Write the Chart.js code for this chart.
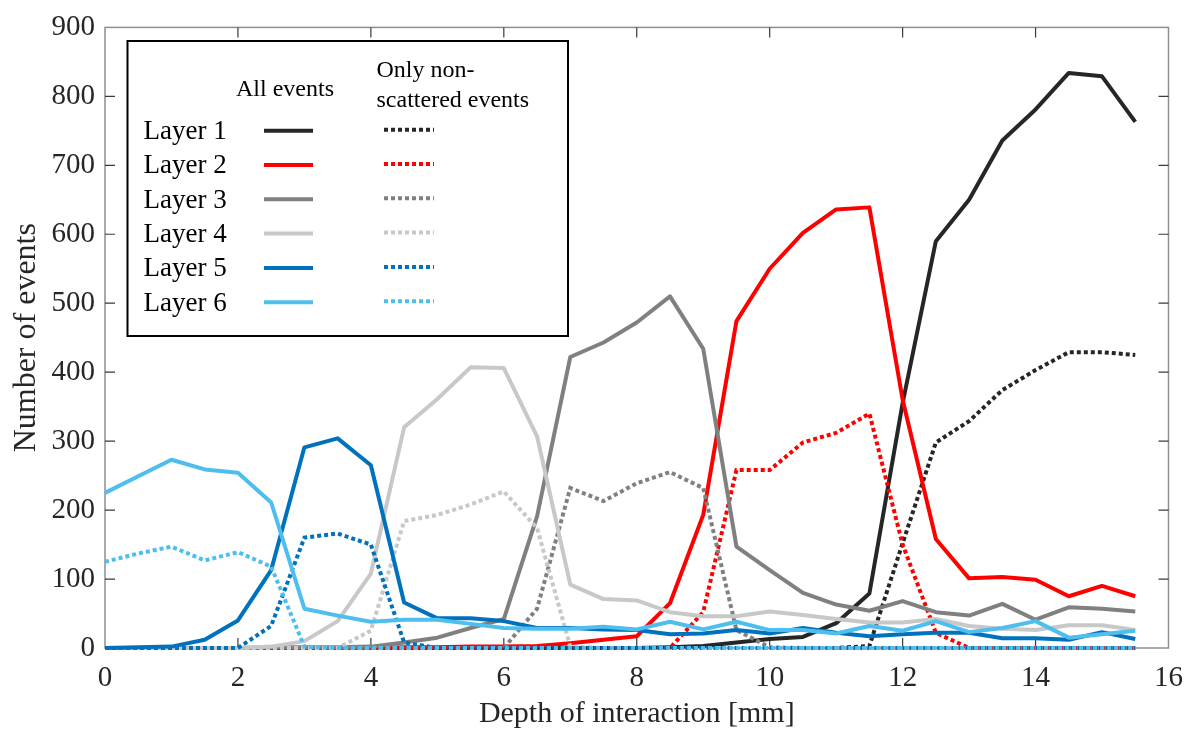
<!DOCTYPE html>
<html>
<head>
<meta charset="utf-8">
<script src="https://cdn.jsdelivr.net/npm/chart.js@4.4.1/dist/chart.umd.min.js"></script>
<style>
  html, body { margin: 0; padding: 0; background: #ffffff; }
  #c { display: block; }
</style>
</head>
<body>
<canvas id="c" width="1196" height="738"></canvas>
<script>
// ---------- DATA ----------
const depth = [0, 0.5, 1, 1.5, 2, 2.5, 3, 3.5, 4, 4.5, 5, 5.5, 6, 6.5, 7, 7.5,
               8, 8.5, 9, 9.5, 10, 10.5, 11, 11.5, 12, 12.5, 13, 13.5, 14, 14.5, 15, 15.5];

const layerNames = ['Layer 1', 'Layer 2', 'Layer 3', 'Layer 4', 'Layer 5', 'Layer 6'];
const headerAll = 'All events';
const headerNonScattered = ['Only non-', 'scattered events'];
const xTitle = 'Depth of interaction [mm]';
const yTitle = 'Number of events';

// All events
const allLayer1 = [0,0,0,0,0,0,0,0,0,0,0,0,0,0,0,0, 0,1,3,8,13,16,36,79,355,590,650,736,781,834,829,763];
const allLayer2 = [0,0,0,0,0,0,0,0,0,1,1,2,2,3,7,12, 17,65,193,474,550,602,636,639,360,158,101,103,99,75,90,75];
const allLayer3 = [0,0,0,0,0,1,1,1,2,8,15,29,42,191,422,443, 472,510,434,147,113,80,63,54,68,52,47,64,41,59,57,53];
const allLayer4 = [0,0,0,0,0,2,10,39,108,320,361,407,406,307,92,71, 69,52,46,46,53,48,42,37,37,42,32,28,26,33,33,26];
const allLayer5 = [0,1,2,12,40,113,291,304,265,66,43,43,39,29,29,27, 26,20,21,26,21,29,22,17,20,22,22,14,14,12,23,13];
const allLayer6 = [225,249,273,259,254,211,57,47,38,41,41,35,29,28,28,31, 27,38,27,38,26,26,21,32,25,39,23,29,39,15,20,25];

// Only non-scattered events
const nsLayer1 = [0,0,0,0,0,0,0,0,0,0,0,0,0,0,0,0, 0,0,0,0,0,0,0,3,152,298,329,374,403,429,429,425];
const nsLayer2 = [0,0,0,0,0,0,0,0,0,0,0,0,0,0,0,0, 0,0,52,258,258,298,312,340,150,22,0,0,0,0,0,0];
const nsLayer3 = [0,0,0,0,0,0,0,0,0,0,0,0,0,57,232,213, 239,255,232,26,1,0,0,0,0,0,0,0,0,0,0,0];
const nsLayer4 = [0,0,0,0,0,0,0,0,25,184,193,208,227,174,2,0, 0,0,0,0,0,0,0,0,0,0,0,0,0,0,0,0];
const nsLayer5 = [0,0,0,0,0,32,160,166,150,8,0,0,0,0,0,0, 0,0,0,0,0,0,0,0,0,0,0,0,0,0,0,0];
const nsLayer6 = [125,137,147,127,139,118,2,0,0,0,0,0,0,0,0,0, 0,0,0,0,0,0,0,0,0,0,0,0,0,0,0,0];

const xTicksStep = 2;
const yTicksStep = 100;

// ---------- STYLE ----------
const colors = ['#262626', '#ff0000', '#808080', '#c8c8c8', '#0072bd', '#4dbeee'];
const serif = "'Liberation Serif', 'Times New Roman', Times, serif";
const textColor = '#262626';

const allSeries = [allLayer1, allLayer2, allLayer3, allLayer4, allLayer5, allLayer6];
const nsSeries = [nsLayer1, nsLayer2, nsLayer3, nsLayer4, nsLayer5, nsLayer6];
const dotDash = [4, 3];

const datasets = [];
layerNames.forEach((name, k) => {
  datasets.push({
    label: name + ' - ' + headerAll,
    data: depth.map((x, i) => ({ x: x, y: allSeries[k][i] })),
    borderColor: colors[k],
    borderWidth: 4,
    borderJoinStyle: 'round',
    pointRadius: 0,
    tension: 0,
    fill: false,
    clip: false,
    order: 11 - 2 * k
  });
  datasets.push({
    label: name + ' - non-scattered',
    data: depth.map((x, i) => ({ x: x, y: nsSeries[k][i] })),
    borderColor: colors[k],
    borderWidth: 4,
    borderDash: dotDash,
    borderCapStyle: 'butt',
    pointRadius: 0,
    tension: 0,
    fill: false,
    clip: false,
    order: 10 - 2 * k
  });
});

// Frame with inward ticks (drawn below the data)
const framePlugin = {
  id: 'frame',
  beforeDatasetsDraw(chart) {
    const { ctx, chartArea: a, scales } = chart;
    ctx.save();
    ctx.strokeStyle = '#8f8f8f';
    ctx.lineWidth = 1.5;
    ctx.strokeRect(a.left, a.top, a.right - a.left, a.bottom - a.top);
    ctx.strokeStyle = '#3a3a3a';
    ctx.lineWidth = 1.2;
    const tl = 10;
    ctx.beginPath();
    scales.y.ticks.forEach(t => {
      const y = scales.y.getPixelForValue(t.value);
      if (Math.abs(y - a.top) < 1 || Math.abs(y - a.bottom) < 1) return;
      ctx.moveTo(a.left, y); ctx.lineTo(a.left + tl, y);
      ctx.moveTo(a.right, y); ctx.lineTo(a.right - tl, y);
    });
    scales.x.ticks.forEach(t => {
      const x = scales.x.getPixelForValue(t.value);
      if (Math.abs(x - a.left) < 1 || Math.abs(x - a.right) < 1) return;
      ctx.moveTo(x, a.bottom); ctx.lineTo(x, a.bottom - tl);
      ctx.moveTo(x, a.top); ctx.lineTo(x, a.top + tl);
    });
    ctx.stroke();
    ctx.restore();
  }
};

// Two-column legend box
const legendPlugin = {
  id: 'boxLegend',
  afterDraw(chart) {
    const { ctx } = chart;
    const ds = chart.data.datasets;
    ctx.save();
    const bx = 127.5, by = 41, bw = 440.5, bh = 295;
    ctx.fillStyle = '#ffffff';
    ctx.fillRect(bx, by, bw, bh);
    ctx.strokeStyle = '#000000';
    ctx.lineWidth = 2;
    ctx.strokeRect(bx, by, bw, bh);

    ctx.fillStyle = '#000000';
    ctx.textBaseline = 'alphabetic';
    ctx.font = '24px ' + serif;
    ctx.textAlign = 'center';
    ctx.fillText(headerAll, 285, 96);
    ctx.textAlign = 'left';
    ctx.fillText(headerNonScattered[0], 376.5, 76.5);
    ctx.fillText(headerNonScattered[1], 376.5, 106.5);

    ctx.font = '27px ' + serif;
    const base0 = 139, step = 34.3;
    layerNames.forEach((name, k) => {
      const base = base0 + k * step;
      ctx.fillStyle = '#000000';
      ctx.fillText(name, 143.5, base);
      const ly = base - 8.3;
      const solid = ds[2 * k], dotted = ds[2 * k + 1];
      ctx.lineCap = 'butt';
      ctx.lineWidth = 4;
      ctx.strokeStyle = solid.borderColor;
      ctx.setLineDash([]);
      ctx.beginPath(); ctx.moveTo(264, ly); ctx.lineTo(313, ly); ctx.stroke();
      ctx.strokeStyle = dotted.borderColor;
      ctx.setLineDash(dotted.borderDash);
      ctx.beginPath(); ctx.moveTo(384, ly - 1); ctx.lineTo(434, ly - 1); ctx.stroke();
    });
    ctx.restore();
  }
};

new Chart(document.getElementById('c'), {
  type: 'line',
  data: { datasets: datasets },
  options: {
    responsive: false,
    animation: false,
    events: [],
    layout: { padding: { top: 18, right: 19, left: 0, bottom: 0 } },
    plugins: { legend: { display: false }, tooltip: { enabled: false } },
    scales: {
      x: {
        type: 'linear',
        min: 0, max: 16,
        ticks: {
          stepSize: xTicksStep, autoSkip: false, maxRotation: 0,
          color: textColor, padding: 13,
          font: { family: serif, size: 29 }
        },
        grid: { display: false, drawTicks: false },
        border: { display: false },
        title: {
          display: true, text: xTitle, color: textColor,
          font: { family: serif, size: 30 },
          padding: { top: 0, bottom: 6 }
        },
        afterFit(scale) { scale.height = 90; }
      },
      y: {
        type: 'linear',
        min: 0, max: 900,
        ticks: {
          stepSize: yTicksStep, color: textColor, padding: 10,
          font: { family: serif, size: 29 }
        },
        grid: { display: false, drawTicks: false },
        border: { display: false },
        title: {
          display: true, text: yTitle, color: textColor,
          font: { family: serif, size: 32 },
          padding: { top: 7, bottom: 0 }
        },
        afterFit(scale) { scale.width = 105; }
      }
    }
  },
  plugins: [framePlugin, legendPlugin]
});
</script>
</body>
</html>
